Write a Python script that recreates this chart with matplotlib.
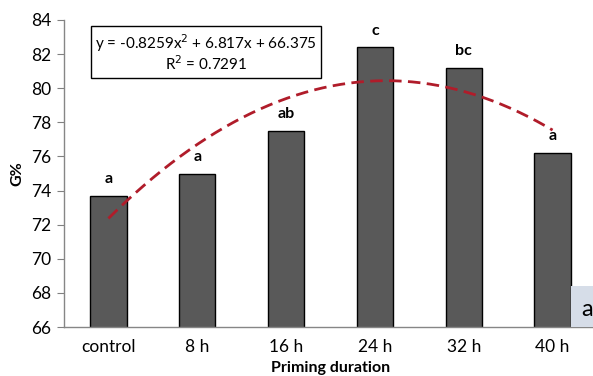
import numpy as np
import matplotlib
matplotlib.use("Agg")
import matplotlib.pyplot as plt
from matplotlib.patches import Rectangle

plt.rcParams['font.family'] = ['Lato', 'DejaVu Sans']

# data
categories = ['control', '8 h', '16 h', '24 h', '32 h', '40 h']
germination = [73.7, 75.0, 77.5, 82.4, 81.2, 76.2]
letters = ['a', 'a', 'ab', 'c', 'bc', 'a']

# polynomial trendline (from the equation shown on the chart)
trend_coef = [-0.8259, 6.817, 66.375]
r_squared = 0.7291

fig = plt.figure(figsize=(5.93, 3.76), dpi=100)
ax = fig.add_axes([64 / 593, 49 / 376, 533 / 593, 307 / 376])

x = np.arange(len(categories))
bars = ax.bar(x, germination, width=0.41, color='#595959', edgecolor='black',
              linewidth=1.0, zorder=2)

# dashed red trendline, x in excel category numbering (1..6)
xs = np.linspace(1, len(categories), 200)
ax.plot(xs - 1, np.polyval(trend_coef, xs), color='#b01c2a', linestyle=(0, (4.5, 2.3)),
        linewidth=2, zorder=3)

for xi, val, lab in zip(x, germination, letters):
    ax.annotate(lab, (xi, val), xytext=(0, 7), textcoords='offset points',
                ha='center', va='bottom', fontsize=11.5, fontweight='bold')

ax.set_xlim(-0.5, len(categories) - 0.5)
ax.set_ylim(66, 84)
ax.set_yticks(np.arange(66, 85, 2))
ax.set_xticks(x)
ax.set_xticklabels(categories)
ax.tick_params(axis='y', length=5, color='#808080', labelsize=12.5, pad=4)
ax.tick_params(axis='x', length=0, labelsize=12.5, pad=9)

for s in ['top', 'right']:
    ax.spines[s].set_visible(False)
for s in ['left', 'bottom']:
    ax.spines[s].set_color('#868686')
    ax.spines[s].set_linewidth(1)

ax.set_ylabel('G%', fontsize=11.5, fontweight='bold', labelpad=5)
fig.text(331 / 593, 1 - 368 / 376, 'Priming duration', ha='center', va='center',
         fontsize=11.5, fontweight='bold')

# equation box
eq_text = "y = -0.8259x$^2$ + 6.817x + 66.375\nR$^2$ = %.4f" % r_squared
fig.text(206 / 593, 1 - 53 / 376, eq_text, ha='center', va='center', fontsize=11,
         linespacing=1.0, math_fontfamily='dejavusans',
         bbox=dict(boxstyle='square,pad=0.3', facecolor='white', edgecolor='black',
                   linewidth=1))

# cropped panel label in the corner
fig.patches.append(Rectangle((571 / 593, 1 - 327 / 376), 30 / 593, 41 / 376,
                             transform=fig.transFigure, facecolor='#d6dde8',
                             edgecolor='none', zorder=5))
fig.text(581 / 593, 1 - 310 / 376, 'a', fontsize=17, ha='left', va='center', zorder=6)

fig.savefig('out.png', dpi=100)
